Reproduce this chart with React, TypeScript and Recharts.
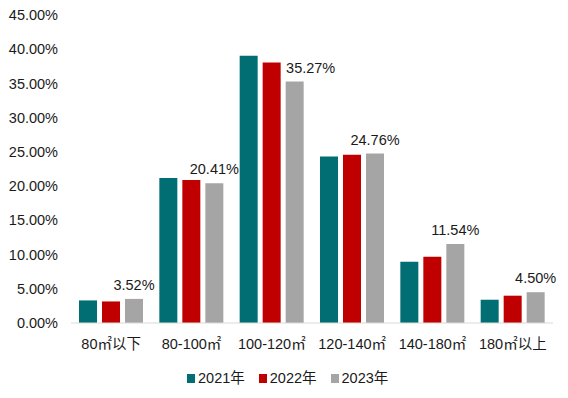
import React from 'react';
import { BarChart, Bar, XAxis, YAxis, Legend, LabelList } from 'recharts';

const categories = ['80㎡以下', '80-100㎡', '100-120㎡', '120-140㎡', '140-180㎡', '180㎡以上'];
const series2021 = [3.3, 21.2, 39.05, 24.34, 8.96, 3.4];
const series2022 = [3.15, 20.9, 38.07, 24.59, 9.69, 3.99];
const series2023 = [3.52, 20.41, 35.27, 24.76, 11.54, 4.5];
const yTicks = [0, 5, 10, 15, 20, 25, 30, 35, 40, 45];

const data = categories.map((c, i) => ({
  name: c,
  y2021: series2021[i],
  y2022: series2022[i],
  y2023: series2023[i],
}));

const FONT = '"Liberation Sans", Arial, "Noto Sans CJK SC", sans-serif';

const ValueLabel = (props: any) => {
  const { x, y, width, value, index } = props;
  const shift = index === 2 ? 16 : 0;
  return (
    <text
      x={Number(x) + Number(width) / 2 + shift}
      y={Number(y) - 9}
      textAnchor="middle"
      fontSize={14.5}
      fill="#1a1a1a"
      fontFamily={FONT}
    >
      {Number(value).toFixed(2) + '%'}
    </text>
  );
};

const LegendContent = (props: any) => {
  const { payload } = props;
  return (
    <div style={{ display: 'flex', alignItems: 'center', fontSize: 14.5, fontFamily: FONT, color: '#1a1a1a', lineHeight: '18px', paddingTop: 4, height: 18 }}>
      {(payload || []).map((p: any, i: number) => (
        <div key={i} style={{ display: 'flex', alignItems: 'center', marginRight: 14 }}>
          <span style={{ display: 'inline-block', width: 8, height: 9, background: p.color, marginRight: 3 }} />
          <span>{p.value}</span>
        </div>
      ))}
    </div>
  );
};

export default function App() {
  return (
    <div style={{ position: 'absolute', left: 0, top: 0, width: 568, height: 398, background: '#fff', fontFamily: FONT }}>
      <BarChart
        width={568}
        height={398}
        data={data}
        margin={{ top: 15, right: 15, left: 0, bottom: 11 }}
        barSize={18}
        barGap={5}
      >
        <YAxis
          width={71}
          domain={[0, 45]}
          ticks={yTicks}
          interval={0}
          axisLine={false}
          tickLine={false}
          tickMargin={7}
          tickFormatter={(v: number) => v.toFixed(2) + '%'}
          tick={{ fontSize: 14.5, fill: '#1a1a1a', fontFamily: FONT }}
        />
        <XAxis
          dataKey="name"
          height={42}
          axisLine={{ stroke: '#d9d9d9', strokeWidth: 1 }}
          tickLine={false}
          tickMargin={10}
          interval={0}
          tick={{ fontSize: 14.5, fill: '#1a1a1a', fontFamily: FONT }}
        />
        <Legend
          verticalAlign="bottom"
          align="left"
          content={LegendContent}
          wrapperStyle={{ left: 187, width: 240 }}
        />
        <Bar dataKey="y2021" name="2021年" fill="#006e73" isAnimationActive={false} />
        <Bar dataKey="y2022" name="2022年" fill="#c00000" isAnimationActive={false} />
        <Bar dataKey="y2023" name="2023年" fill="#a5a5a5" isAnimationActive={false}>
          <LabelList dataKey="y2023" content={ValueLabel} />
        </Bar>
      </BarChart>
    </div>
  );
}
